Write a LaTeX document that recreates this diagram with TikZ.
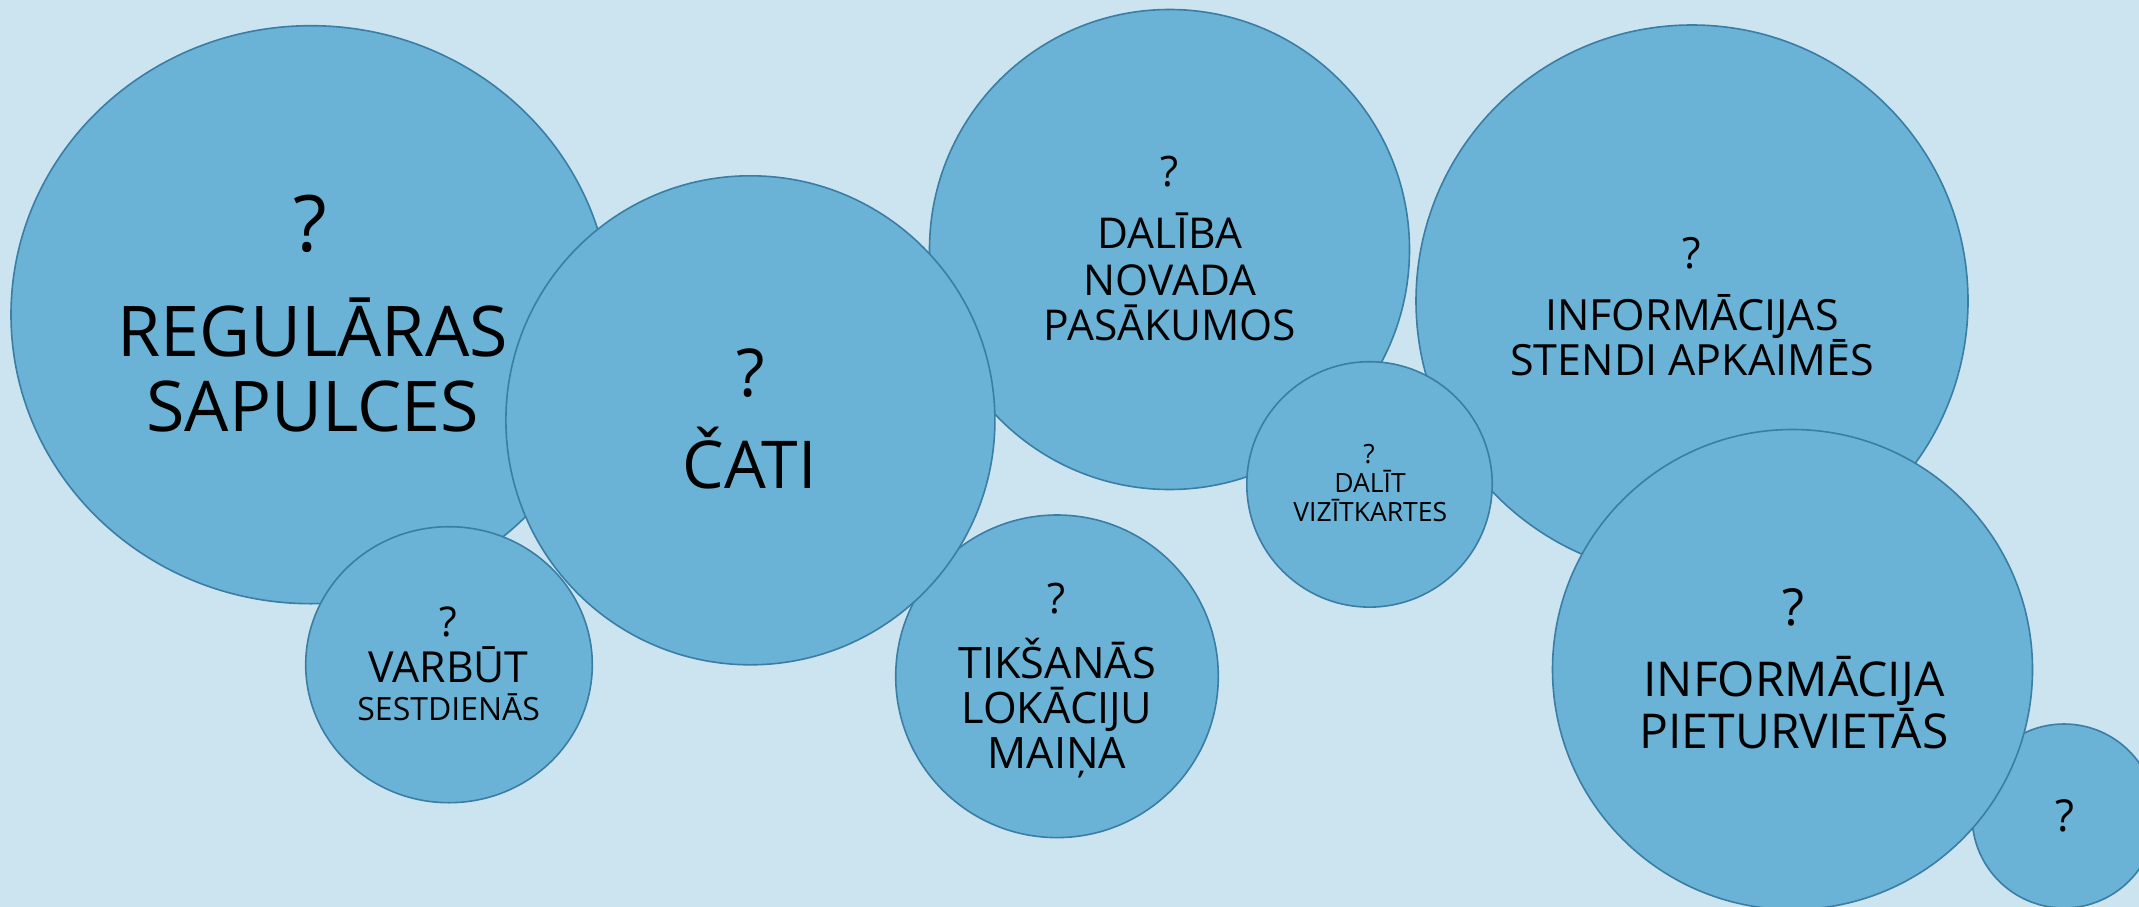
\documentclass[tikz,border=0pt]{standalone}
\usepackage{fontspec}
\setmainfont{Open Sans}
\usetikzlibrary{shapes.geometric}
\definecolor{bgc}{HTML}{CCE4EF}
\definecolor{bubfill}{HTML}{6AB3D6}
\definecolor{bubline}{HTML}{3A7DA5}
\newcommand\fsz[1]{\fontsize{#1}{#1}\selectfont}
\tikzset{
  bub/.style={circle, fill=bubfill, draw=bubline, line width=1.6pt, inner sep=0pt, minimum size=#1},
  ebub/.style={ellipse, fill=bubfill, draw=bubline, line width=1.6pt, inner sep=0pt},
  lbl/.style={anchor=base, inner sep=0pt, text=black, font=\fsz{#1}}
}
\begin{document}
\begin{tikzpicture}[x=1pt, y=-1pt]
\useasboundingbox (0,0) rectangle (2139,907);
\clip (0,0) rectangle (2139,907);
\fill[bgc] (0,0) rectangle (2139,907);

% Regulāras sapulces
\node[ebub, minimum width=600pt, minimum height=578pt] (reg) at (311,314.7) {};
\node[lbl=78] (regq) at (310,251.7) {?};
\node[lbl=70] (reg1) at (312.5,356.7) {REGULĀRAS};
\node[lbl=70] (reg2) at (312.5,431.7) {SAPULCES};

% Varbūt sestdienās
\node[ebub, minimum width=286.6pt, minimum height=276pt] (varb) at (449,664.7) {};
\node[lbl=41] (varbq) at (448.7,636.7) {?};
\node[lbl=42.8] (varb1) at (448.7,682.7) {VARBŪT};
\node[lbl=32] (varb2) at (448.7,720) {SESTDIENĀS};

% Dalība novada pasākumos
\node[bub=480pt] (dal) at (1169.5,249.5) {};
\node[lbl=42] (dalq) at (1169,186.7) {?};
\node[lbl=42.5] (dal1) at (1170,248.3) {DALĪBA};
\node[lbl=42.5] (dal2) at (1170,295) {NOVADA};
\node[lbl=42.5] (dal3) at (1170,340) {PASĀKUMOS};

% Tikšanās lokāciju maiņa
\node[bub=322.6pt] (tik) at (1057,676.3) {};
\node[lbl=42] (tikq) at (1057,613.3) {?};
\node[lbl=43.3] (tik1) at (1057,678) {TIKŠANĀS};
\node[lbl=43.3] (tik2) at (1057,723) {LOKĀCIJU};
\node[lbl=43.3] (tik3) at (1057,768) {MAIŅA};

% Čati
\node[bub=489pt] (cat) at (750.4,420.3) {};
\node[lbl=66] (catq) at (750.8,396.7) {?};
\node[lbl=66] (cat1) at (749.5,488.3) {ČATI};

% Informācijas stendi apkaimēs
\node[bub=552pt] (sten) at (1692,301) {};
\node[lbl=43] (stenq) at (1692,268) {?};
\node[lbl=43] (sten1) at (1692,330) {INFORMĀCIJAS};
\node[lbl=43] (sten2) at (1692,375.7) {STENDI APKAIMĒS};

% Dalīt vizītkartes
\node[bub=245.4pt] (viz) at (1369.5,484.4) {};
\node[lbl=26.5] (vizq) at (1369,463.3) {?};
\node[lbl=26.5] (viz1) at (1370,492.7) {DALĪT};
\node[lbl=26.5] (viz2) at (1370.3,521.7) {VIZĪTKARTES};

% small
\node[bub=184pt] (sm) at (2064,816) {};
\node[lbl=44] (smq) at (2065,831.7) {?};

% Informācija pieturvietās
\node[bub=480pt] (piet) at (1792.5,669.5) {};
\node[lbl=51] (pietq) at (1793,625) {?};
\node[lbl=48] (piet1) at (1794,696.7) {INFORMĀCIJA};
\node[lbl=48] (piet2) at (1794,748.3) {PIETURVIETĀS};
\end{tikzpicture}
\end{document}
